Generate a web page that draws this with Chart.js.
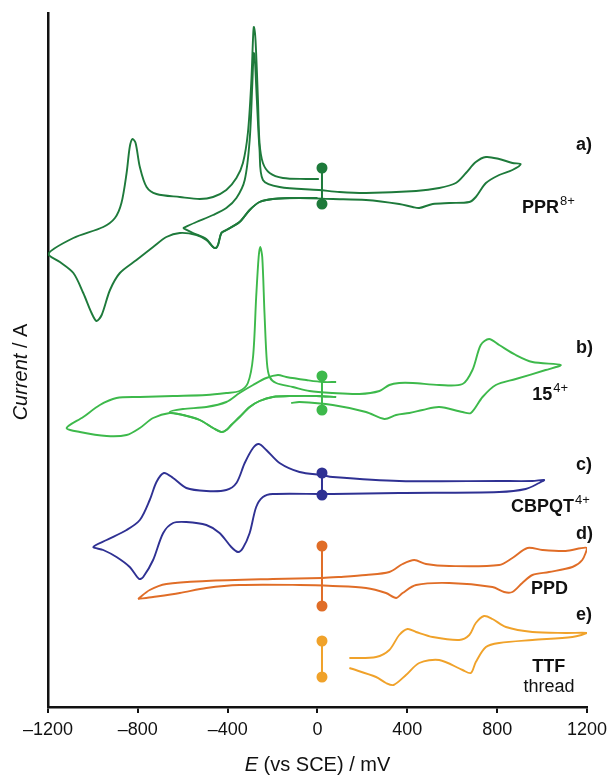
<!DOCTYPE html>
<html>
<head>
<meta charset="utf-8">
<script src="https://cdn.jsdelivr.net/npm/chart.js@4.4.1/dist/chart.umd.min.js"></script>
<style>
  html, body { margin: 0; padding: 0; background: #fff; }
  #wrap { width: 613px; height: 777px; position: relative; }
</style>
</head>
<body>
<div id="wrap"><canvas id="cv"></canvas></div>
<script>
// potential E in mV, current in arbitrary units (traces are offset vertically)
const eTicks = [-1200, -800, -400, 0, 400, 800, 1200]

const pprScan1E = [0, -124, -199, -258, -302, -347, -406, -428, -443, -453, -465, -495, -539, -613, -673, -732, -806, -880, -924, -961, -984, -1006, -1043, -1087, -1147, -1199, -1087, -954, -902, -873, -850, -836, -824, -810, -791, -761, -717, -613, -524, -465, -406, -361, -332, -310, -295, -286, -283, -276, -265, -258, -243, -213, -154, -50, 6]
const pprScan1I = [509, 509, 508, 505, 497, 485, 477, 474, 462, 459, 460, 467, 472, 474, 470, 460, 447, 434, 417, 392, 386, 394, 414, 434, 445, 453, 469, 480, 489, 504, 534, 560, 568, 564, 540, 520, 513, 510, 508, 510, 517, 529, 544, 574, 624, 674, 680, 667, 607, 564, 544, 534, 529, 528, 528]
const pprScan2E = [-599, -539, -465, -406, -361, -324, -302, -290, -284, -280, -270, -258, -243, -169, 6, 98, 216, 439, 542, 616, 661, 705, 750, 809, 868, 905, 868, 809, 750, 705, 676, 587, 513, 453, 424, 364, 216, 68, -80, -199, -258, -302, -347, -406, -428, -443, -453, -465, -495, -554, -599]
const pprScan2I = [479, 485, 492, 499, 509, 527, 567, 624, 654, 652, 607, 557, 527, 520, 517, 515, 514, 516, 519, 524, 534, 545, 550, 548, 544, 543, 537, 532, 524, 510, 505, 504, 503, 499, 500, 503, 507, 508, 509, 508, 505, 497, 485, 477, 474, 462, 459, 460, 468, 474, 479]

const r15Scan1E = [83, -6, -110, -199, -258, -302, -347, -384, -406, -428, -465, -524, -599, -658, -732, -791, -850, -939, -1058, -1117, -1043, -969, -895, -791, -643, -495, -406, -347, -310, -287, -273, -262, -255, -246, -236, -225, -213, -184, -110, -36, 68, 187, 276, 320, 364, 424, 542, 646, 690, 727, 764, 809, 883, 957, 1083, 1016, 883, 794, 735, 683, 646, 542, 468, 409, 350, 298, 216, 68, -80, -117]
const r15Scan1I = [310, 311, 311, 310, 306, 300, 290, 282, 277, 275, 279, 287, 292, 294, 289, 279, 272, 271, 275, 279, 290, 302, 309, 310, 311, 312, 314, 316, 324, 350, 410, 450, 460, 450, 394, 344, 330, 324, 320, 316, 314, 313, 316, 322, 324, 324, 322, 323, 337, 362, 368, 362, 352, 345, 342, 337, 328, 322, 310, 294, 295, 300, 297, 294, 292, 288, 295, 302, 305, 304]
const r15Scan2E = [83, 24, -50, -139, -176, -228, -287, -347, -406, -495, -599, -658, -599, -524, -465, -428, -406, -384, -347, -302, -258, -199, -110, -6, 83]
const r15Scan2I = [325, 325, 327, 330, 332, 329, 322, 314, 305, 300, 298, 295, 292, 287, 279, 275, 277, 282, 290, 300, 306, 310, 311, 311, 310]

const cbpqtE = [21, -80, -169, -228, -261, -287, -324, -361, -406, -495, -584, -643, -684, -717, -747, -791, -850, -939, -998, -954, -895, -836, -794, -776, -732, -687, -643, -584, -495, -436, -384, -354, -332, -302, -273, -243, -199, 21, 68, 364, 809, 927, 987, 1009, 957, 809, 364, 68, 21]
const cbpqtI = [232, 235, 244, 257, 263, 259, 244, 224, 217, 216, 219, 229, 234, 225, 207, 187, 177, 167, 160, 157, 150, 140, 128, 130, 147, 174, 184, 185, 182, 174, 160, 155, 159, 174, 200, 210, 213, 213, 213, 214, 215, 218, 224, 227, 226, 226, 226, 230, 232]

const ppdE = [-799, -747, -673, -495, -199, 21, 98, 216, 320, 379, 431, 483, 587, 809, 868, 935, 1001, 1105, 1201, 1179, 1135, 1031, 957, 912, 868, 831, 779, 587, 439, 379, 350, 305, 216, 68, -80, -347, -495, -613, -732, -799]
const ppdI = [108, 117, 123, 126, 128, 129, 130, 132, 135, 143, 147, 143, 141, 142, 149, 159, 157, 156, 159, 147, 140, 135, 132, 124, 115, 115, 120, 124, 122, 114, 109, 114, 119, 121, 122, 122, 119, 114, 110, 108]

const ttfE = [142, 261, 320, 364, 401, 439, 513, 631, 676, 705, 742, 779, 839, 957, 1105, 1201, 1135, 957, 809, 750, 705, 683, 646, 542, 453, 394, 339, 305, 261, 142]
const ttfI = [49, 50, 57, 72, 78, 75, 70, 67, 72, 84, 91, 88, 80, 75, 74, 74, 70, 67, 64, 60, 45, 34, 37, 47, 44, 32, 22, 24, 30, 39]

// rest-potential markers (start of each scan)
const markerE = [20, 20]
const pprMarkI = [539, 503]
const r15MarkI = [331, 297]
const cbpqtMarkI = [234, 212]
const ppdMarkI = [161, 101]
const ttfMarkI = [66, 30]

const panelTags = ['a)', 'b)', 'c)', 'd)', 'e)']
const compoundNames = ['PPR', '15', 'CBPQT', 'PPD', 'TTF']
const compoundCharges = ['8+', '4+', '4+', '', '']
const threadLabel = 'thread'

const colors = ['#1e7a3b', '#3db94b', '#2f3193', '#e06d27', '#f0a22a']

const pts = (xs, ys) => xs.map((x, i) => ({ x, y: ys[i] }))

function trace(xs, ys, color) {
  return { data: pts(xs, ys), borderColor: color, borderWidth: 1.9, showLine: true, pointRadius: 0, tension: 0.3, fill: false }
}
function marker(ys, color) {
  return { data: pts(markerE, ys), borderColor: color, backgroundColor: color, borderWidth: 2, showLine: true, pointRadius: 4.5, pointHoverRadius: 4.5, tension: 0 }
}

const FONT = '"Liberation Sans", Arial, Helvetica, sans-serif'

const annotate = {
  id: 'annotate',
  afterDraw(chart) {
    const { ctx, scales: { x, y } } = chart
    ctx.save()
    ctx.fillStyle = '#111'
    ctx.textBaseline = 'middle'

    // panel tags
    const tagI = [562, 359, 242, 173, 92]
    ctx.font = 'bold 18px ' + FONT
    ctx.textAlign = 'left'
    panelTags.forEach((t, i) => ctx.fillText(t, x.getPixelForValue(1151), y.getPixelForValue(tagI[i])))

    // compound names with charges
    const nameE = [911, 956, 862, 951, 956]
    const nameI = [499, 312, 200, 118, 40]
    compoundNames.forEach((n, i) => {
      const px = x.getPixelForValue(nameE[i]), py = y.getPixelForValue(nameI[i])
      ctx.font = 'bold 18px ' + FONT
      ctx.fillText(n, px, py)
      if (compoundCharges[i]) {
        const w = ctx.measureText(n).width
        ctx.font = '13px ' + FONT
        ctx.fillText(compoundCharges[i], px + w + 1, py - 7)
      }
    })
    ctx.font = '18px ' + FONT
    ctx.textAlign = 'center'
    ctx.fillText(threadLabel, x.getPixelForValue(1031), y.getPixelForValue(20))

    // axis titles (italic symbol + plain text)
    const mixed = (a, b, cx, cy, size) => {
      ctx.font = 'italic ' + size + 'px ' + FONT
      const wa = ctx.measureText(a).width
      ctx.font = size + 'px ' + FONT
      const wb = ctx.measureText(b).width
      const x0 = cx - (wa + wb) / 2
      ctx.textAlign = 'left'
      ctx.font = 'italic ' + size + 'px ' + FONT
      ctx.fillText(a, x0, cy)
      ctx.font = size + 'px ' + FONT
      ctx.fillText(b, x0 + wa, cy)
    }
    mixed('E', ' (vs SCE) / mV', x.getPixelForValue(0), 765, 20)
    ctx.translate(21, 372)
    ctx.rotate(-Math.PI / 2)
    mixed('Current', ' / A', 0, 0, 20)
    ctx.restore()
  }
}

new Chart(document.getElementById('cv'), {
  type: 'scatter',
  data: {
    datasets: [
      trace(pprScan1E, pprScan1I, colors[0]),
      trace(pprScan2E, pprScan2I, colors[0]),
      trace(r15Scan1E, r15Scan1I, colors[1]),
      trace(r15Scan2E, r15Scan2I, colors[1]),
      trace(cbpqtE, cbpqtI, colors[2]),
      trace(ppdE, ppdI, colors[3]),
      trace(ttfE, ttfI, colors[4]),
      marker(pprMarkI, colors[0]),
      marker(r15MarkI, colors[1]),
      marker(cbpqtMarkI, colors[2]),
      marker(ppdMarkI, colors[3]),
      marker(ttfMarkI, colors[4])
    ]
  },
  options: {
    responsive: true,
    maintainAspectRatio: false,
    animation: false,
    layout: { padding: { left: 48, right: 25, top: 13, bottom: 0 } },
    plugins: { legend: { display: false }, tooltip: { enabled: false } },
    scales: {
      x: {
        type: 'linear', min: -1200, max: 1200,
        afterBuildTicks: s => { s.ticks = eTicks.map(v => ({ value: v })) },
        afterFit: s => { s.height = 70 },
        ticks: {
          color: '#111', font: { family: FONT, size: 18 }, padding: 6, maxRotation: 0,
          callback: v => (v < 0 ? '\u2013' + Math.abs(v) : String(v))
        },
        grid: { drawOnChartArea: false, drawTicks: true, tickLength: 6, color: '#111', lineWidth: 2 },
        border: { display: true, color: '#111', width: 2.5 }
      },
      y: {
        type: 'linear', min: 0, max: 694,
        afterFit: s => { s.width = 0 },
        ticks: { display: false },
        grid: { display: false },
        border: { display: true, color: '#111', width: 2.5 }
      }
    }
  },
  plugins: [annotate]
})
</script>
</body>
</html>
